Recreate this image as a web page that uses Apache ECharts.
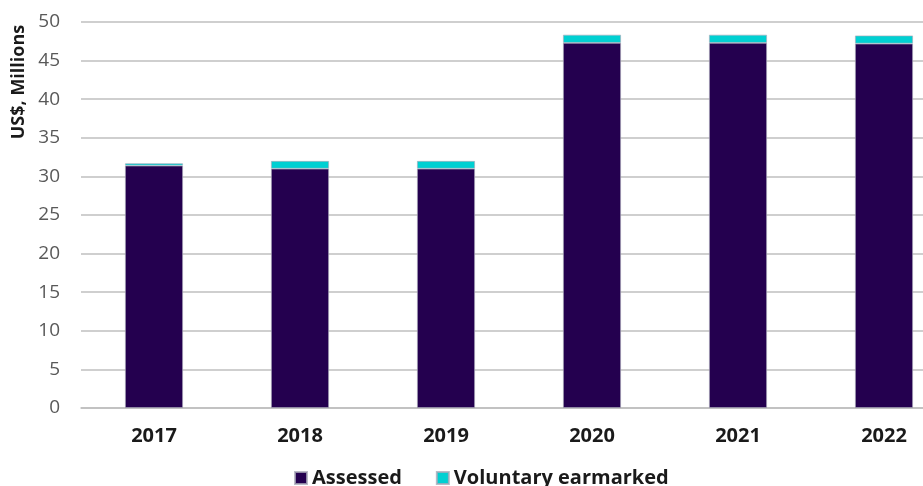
<!DOCTYPE html>
<html>
<head>
<meta charset="utf-8">
<script src="https://cdn.jsdelivr.net/npm/echarts@6/dist/echarts.min.js"></script>
<style>
html,body{margin:0;padding:0;background:#fff;}
#chart{width:923px;height:486px;}
</style>
</head>
<body>
<div id="chart"></div>
<script>
const categories = ['2017', '2018', '2019', '2020', '2021', '2022'];
const assessed = [31.4, 31.0, 31.0, 47.3, 47.3, 47.2];
const voluntary = [0.3, 1.0, 1.0, 1.05, 1.05, 1.05];
const yTicks = { min: 0, max: 50, interval: 5 };
const yTitle = 'US$, Millions';
const seriesNames = ['Assessed', 'Voluntary earmarked'];

const chart = echarts.init(document.getElementById('chart'), null, { renderer: 'canvas' });
const font = '"Open Sans", "Noto Sans", sans-serif';
chart.setOption({
  animation: false,
  textStyle: { fontFamily: font },
  grid: { left: 81, top: 22, width: 876, height: 386, containLabel: false, outerBoundsMode: 'none' },
  graphic: [{
    type: 'text',
    x: 19, y: 82,
    rotation: Math.PI / 2,
    style: {
      text: yTitle,
      fontFamily: font, fontWeight: 'bold', fontSize: 18, fill: '#1a1a1a',
      align: 'center', verticalAlign: 'middle'
    }
  }],
  legend: {
    data: seriesNames,
    left: 289, top: 463,
    itemWidth: 12, itemHeight: 12, itemGap: 34,
    icon: 'rect',
    textStyle: { fontFamily: font, fontWeight: 'bold', fontSize: 20, color: '#1a1a1a', padding: [0, 0, 0, 0] }
  },
  xAxis: {
    type: 'category',
    data: categories,
    axisTick: { show: false },
    axisLine: { show: true, lineStyle: { color: '#bfbfbf', width: 1.5 } },
    axisLabel: { margin: 18, fontFamily: font, fontWeight: 'bold', fontSize: 20, color: '#1a1a1a' }
  },
  yAxis: {
    type: 'value',
    min: yTicks.min, max: yTicks.max, interval: yTicks.interval,
    axisLine: { show: false },
    axisTick: { show: false },
    axisLabel: { margin: 21, fontFamily: font, fontSize: 19, color: '#595959' },
    splitLine: { lineStyle: { color: '#bfbfbf', width: 1.5 } }
  },
  series: [
    {
      name: seriesNames[0], type: 'bar', stack: 'total', data: assessed,
      barWidth: 58,
      itemStyle: { color: '#24004f', borderColor: 'rgba(170,170,185,0.8)', borderWidth: 0.8 }
    },
    {
      name: seriesNames[1], type: 'bar', stack: 'total', data: voluntary,
      barWidth: 58,
      itemStyle: { color: '#00d0d2', borderColor: 'rgba(170,170,185,0.8)', borderWidth: 0.8 }
    }
  ]
});
</script>
</body>
</html>
